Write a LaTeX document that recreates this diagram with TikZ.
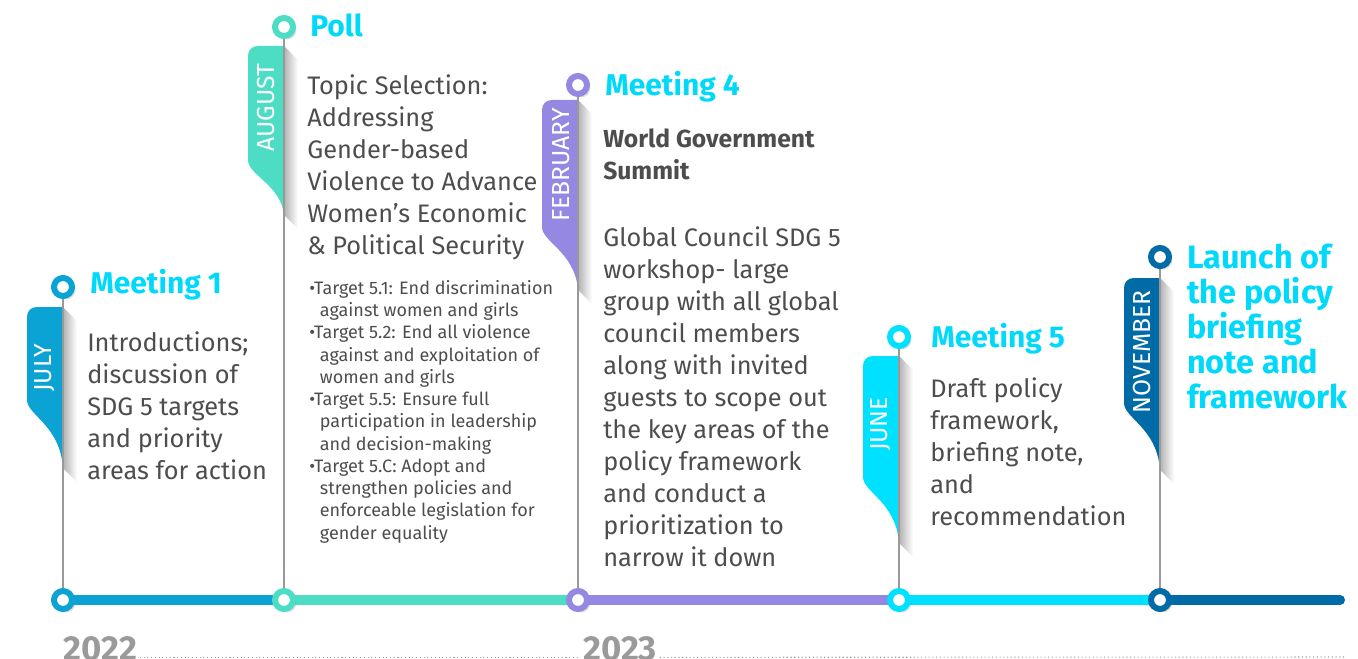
\documentclass[tikz,border=0pt]{standalone}
\usepackage{fontspec}
\setmainfont{Fira Sans}
\usetikzlibrary{positioning}
\usetikzlibrary{shadows}
\definecolor{cjul}{HTML}{0AA3D3}
\definecolor{caug}{HTML}{4DDCC4}
\definecolor{cfeb}{HTML}{9488E2}
\definecolor{cjun}{HTML}{00E1FF}
\definecolor{cnov}{HTML}{006BA6}
\definecolor{ctitle}{HTML}{00D9FA}
\definecolor{cbody}{HTML}{4D4D4D}
\definecolor{cyear}{HTML}{9A9A9A}
\pgfdeclarelayer{background}
\pgfsetlayers{background,main}
\tikzstyle{dot}=[circle, fill=white, line width=4.5pt, minimum size=13.5pt, inner sep=0pt,
    drop shadow={opacity=0.25, shadow xshift=2.5pt, shadow yshift=-2.5pt}]
\tikzstyle{stem}=[draw=black!40, line width=1.1pt]
\tikzstyle{track}=[line width=7.5pt]
\tikzstyle{tabshade}=[left color=black!30, right color=white]
\tikzstyle{title}=[anchor=base west, inner sep=0pt, text=ctitle, font=\fontsize{22.5}{26}\selectfont\bfseries]
\tikzstyle{body}=[anchor=north west, inner sep=0pt, align=left, text=cbody, font=\fontsize{19}{24}\selectfont]
\tikzstyle{targets}=[body, font=\fontsize{13.5}{16.7}\selectfont]
\tikzstyle{month}=[rotate=90, inner sep=0pt, text=white, font=\fontsize{18.5}{20}\selectfont]
\tikzstyle{year}=[anchor=base west, inner sep=0pt, text=cyear, font=\fontsize{26}{28}\selectfont\bfseries]
\tikzstyle{dotline}=[draw=cyear, line width=0.8pt, dotted]

\begin{document}
\begin{tikzpicture}[x=0.75pt, y=-0.75pt]
          \useasboundingbox (0,0) rectangle (1358,659);
          \node[dot, draw=cjul] (mtop1) at (63,287){};
          \node[dot, draw=caug] (mtop2) at (284,27){};
          \node[dot, draw=cfeb] (mtop3) at (578,85){};
          \node[dot, draw=cjun] (mtop4) at (899,337){};
          \node[dot, draw=cnov] (mtop5) at (1160,257){};
          \node[dot, draw=cjul] (mbot1) at (63,600){};
          \node[dot, draw=caug] (mbot2) at (284,600){};
          \node[dot, draw=cfeb] (mbot3) at (578,600){};
          \node[dot, draw=cjun] (mbot4) at (899,600){};
          \node[dot, draw=cnov] (mbot5) at (1160,600){};
          \coordinate (lineend) at (1340,600);
          \begin{pgfonlayer}{background}
          \shade[tabshade] (63,307) -- (77,321) -- (77,482) -- (63,468) -- cycle;
          \shade[tabshade] (284,46) -- (298,60) -- (298,229) -- (284,215) -- cycle;
          \shade[tabshade] (578,100) -- (592,114) -- (592,304) -- (578,290) -- cycle;
          \shade[tabshade] (899,356) -- (913,370) -- (913,557) -- (899,543) -- cycle;
          \shade[tabshade] (1160,278) -- (1174,292) -- (1174,484) -- (1160,470) -- cycle;
          \fill[cjul] (63,307) -- (37,307) .. controls (31,307) and (27,311) .. (27,317) -- (27,400)
              .. controls (27,415) and (60,425) .. (63,468) -- cycle;
          \fill[caug] (284,46) -- (258,46) .. controls (252,46) and (248,50) .. (248,56) -- (248,160)
              .. controls (248,175) and (281,185) .. (284,215) -- cycle;
          \fill[cfeb] (578,100) -- (552,100) .. controls (546,100) and (542,104) .. (542,110) -- (542,227)
              .. controls (542,242) and (575,252) .. (578,290) -- cycle;
          \fill[cjun] (899,356) -- (873,356) .. controls (867,356) and (863,360) .. (863,366) -- (863,477)
              .. controls (863,492) and (896,502) .. (899,543) -- cycle;
          \fill[cnov] (1160,278) -- (1134,278) .. controls (1128,278) and (1124,282) .. (1124,288) -- (1124,403)
              .. controls (1124,418) and (1157,428) .. (1160,470) -- cycle;
          \draw[stem] (mtop1.center) -- (mbot1.center);
          \draw[stem] (mtop2.center) -- (mbot2.center);
          \draw[stem] (mtop3.center) -- (mbot3.center);
          \draw[stem] (mtop4.center) -- (mbot4.center);
          \draw[stem] (mtop5.center) -- (mbot5.center);
          \draw[track, cjul] (mbot1.center) -- (mbot2.center);
          \draw[track, caug] (mbot2.center) -- (mbot3.center);
          \draw[track, cfeb] (mbot3.center) -- (mbot4.center);
          \draw[track, cjun] (mbot4.center) -- (mbot5.center);
          \draw[track, cnov, line cap=round] (mbot5.center) -- (lineend);
          \end{pgfonlayer}
          \node[month] (mon1) at (45,368){JULY};
          \node[month] (mon2) at (266,108){AUGUST};
          \node[month] (mon3) at (561,165){FEBRUARY};
          \node[month] (mon4) at (881,424){JUNE};
          \node[month] (mon5) at (1142,352){NOVEMBER};
          \node[title] (tit1) at (90,293){Meeting 1};
          \node[title] (tit2) at (310,37){Poll};
          \node[title] (tit3) at (605,96){Meeting 4};
          \node[title] (tit4) at (931,347){Meeting 5};
          \node[anchor=north west, inner sep=0pt, align=left, text=ctitle,
              font=\fontsize{24.3}{26.25}\selectfont\bfseries] (tit5) at (1187,244)
              {Launch of\\the policy\\briefing\\note and\\framework};
          \node[body] (txt1) at (87,331){Introductions;\\discussion of\\SDG 5 targets\\and priority\\areas for action};
          \node[body] (txt2) at (307,74){Topic Selection:\\Addressing\\Gender-based\\Violence to Advance\\Women’s Economic\\\& Political Security};
          \node[targets] (txt3) at (309,280){%
              •Target 5.1: End discrimination\\
              \hspace*{8pt}against women and girls\\
              •Target 5.2: End all violence\\
              \hspace*{8pt}against and exploitation of\\
              \hspace*{8pt}women and girls\\
              •Target 5.5: Ensure full\\
              \hspace*{8pt}participation in leadership\\
              \hspace*{8pt}and decision-making\\
              •Target 5.C: Adopt and\\
              \hspace*{8pt}strengthen policies and\\
              \hspace*{8pt}enforceable legislation for\\
              \hspace*{8pt}gender equality};
          \node[body, font=\fontsize{18.5}{24}\selectfont\bfseries] (sub3) at (603,129){World Government\\Summit};
          \node[body] (txt4) at (603,226){Global Council SDG 5\\workshop- large\\group with all global\\council members\\along with invited\\guests to scope out\\the key areas of the\\policy framework\\and conduct a\\prioritization to\\narrow it down};
          \node[body] (txt5) at (930,377){Draft policy\\framework,\\briefing note,\\and\\recommendation};
          \node[year] (yr1) at (63,660){2022};
          \node[year] (yr2) at (583,660){2023};
          \coordinate (dotend) at (1345,657);
          \draw[dotline] ([xshift=2pt,yshift=2pt]yr1.base east) -- ([xshift=-2pt,yshift=2pt]yr2.base west);
          \draw[dotline] ([xshift=2pt,yshift=2pt]yr2.base east) -- (dotend);
        \end{tikzpicture}
\end{document}
